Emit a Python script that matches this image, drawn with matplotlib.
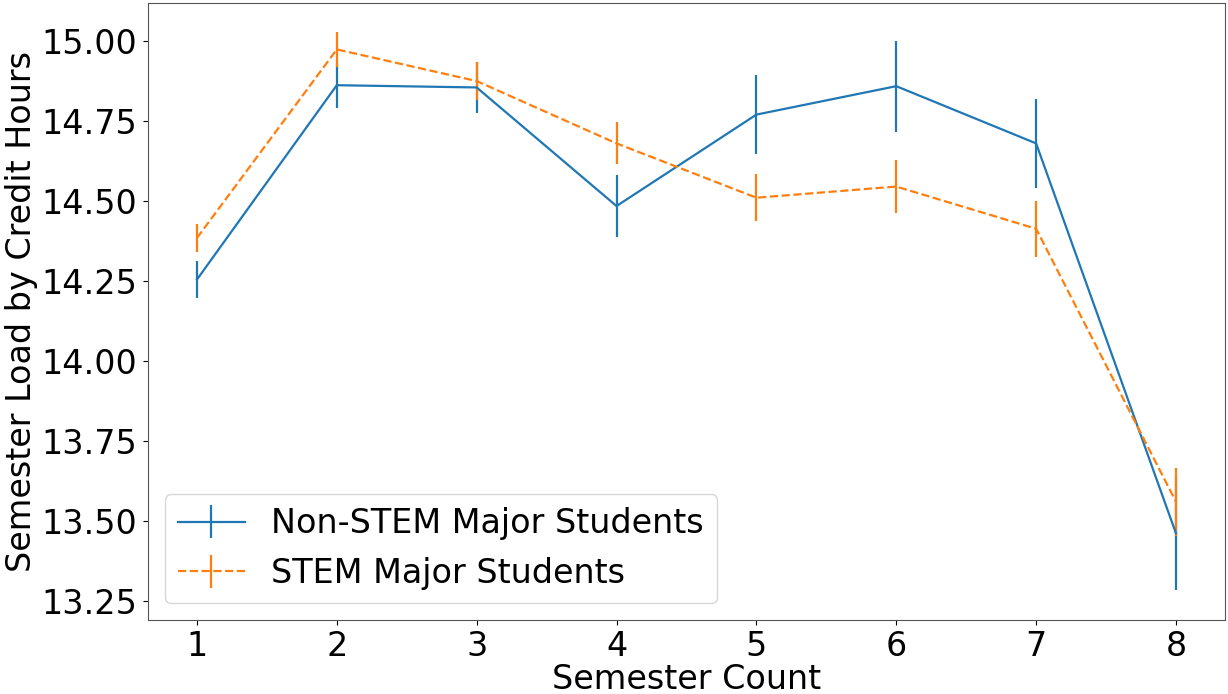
import matplotlib
matplotlib.use("Agg")
import matplotlib.pyplot as plt

semesters = [1, 2, 3, 4, 5, 6, 7, 8]
non_stem = [14.255, 14.863, 14.856, 14.485, 14.771, 14.860, 14.681, 13.461]
non_stem_err = [0.057, 0.07, 0.08, 0.096, 0.124, 0.142, 0.14, 0.176]
stem = [14.385, 14.975, 14.876, 14.681, 14.511, 14.546, 14.414, 13.56]
stem_err = [0.043, 0.055, 0.06, 0.066, 0.073, 0.083, 0.087, 0.107]

fig = plt.figure(figsize=(12.28, 6.94), dpi=100)
ax = fig.add_axes([0.1205, 0.1066, 0.877, 0.889])

ax.errorbar(semesters, non_stem, yerr=non_stem_err, color="#1f77b4", lw=1.6,
            elinewidth=1.6, label="Non-STEM Major Students")
ax.errorbar(semesters, stem, yerr=stem_err, color="#ff7f0e", lw=1.6, ls="--",
            elinewidth=1.6, label="STEM Major Students")

ax.set_xticks(semesters)
ax.set_yticks([13.25, 13.5, 13.75, 14.0, 14.25, 14.5, 14.75, 15.0])
ax.set_ylim(13.19, 15.12)
ax.tick_params(labelsize=24, pad=4)
ax.set_xlabel("Semester Count", fontsize=24, labelpad=0)
ax.set_ylabel("Semester Load by Credit Hours", fontsize=24, labelpad=3)
for s in ax.spines.values():
    s.set_color("#555555")
ax.legend(loc="lower left", fontsize=24)

fig.savefig("out.png", dpi=100)
